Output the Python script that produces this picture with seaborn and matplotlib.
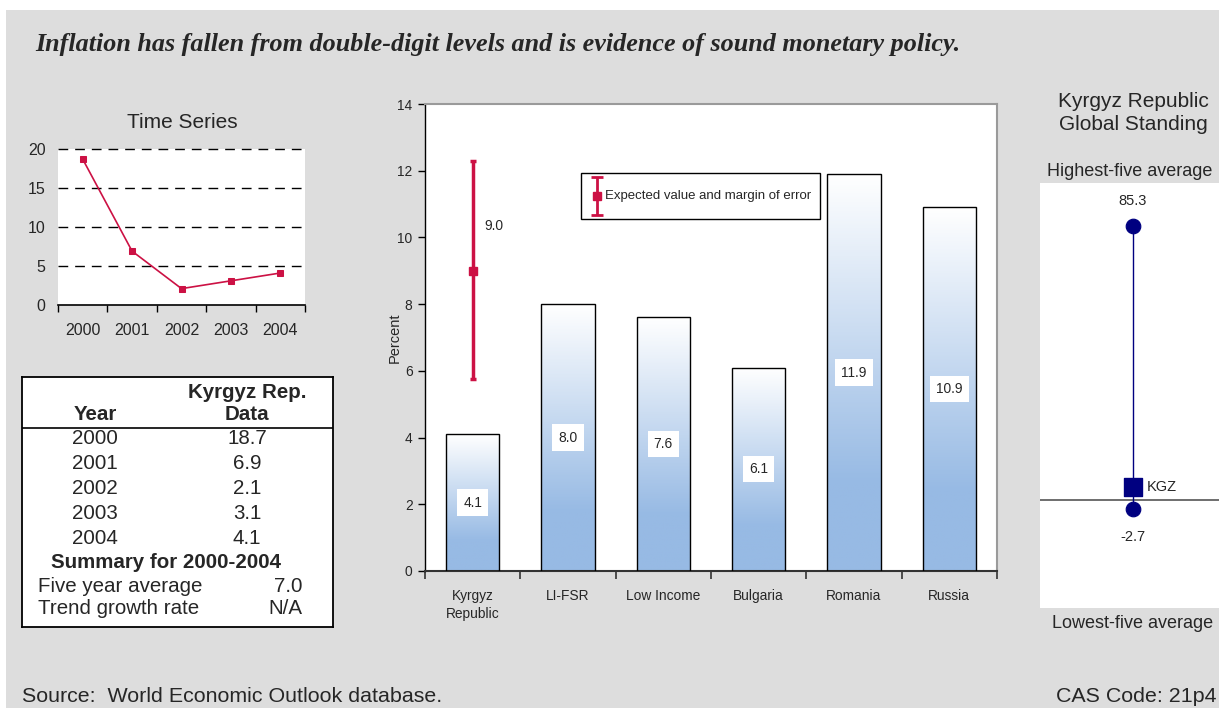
import matplotlib
matplotlib.use("Agg")
import matplotlib.pyplot as plt
from matplotlib import font_manager
from matplotlib.patches import Rectangle
from matplotlib.colors import LinearSegmentedColormap
import numpy as np
import seaborn as sns

# ---- data ----
years = ['2000', '2001', '2002', '2003', '2004']
inflation = [18.7, 6.9, 2.1, 3.1, 4.1]

countries = ['Kyrgyz\nRepublic', 'LI-FSR', 'Low Income', 'Bulgaria', 'Romania', 'Russia']
avg_inflation = [4.1, 8.0, 7.6, 6.1, 11.9, 10.9]

expected_value = 9.0
margin_low = 5.75
margin_high = 12.3

standing_labels = ['Highest-five average', 'Lowest-five average']
standing_values = [85.3, -2.7]
kgz_value = 4.1

five_year_avg = '7.0'
trend_growth = 'N/A'

title = 'Inflation has fallen from double-digit levels and is evidence of sound monetary policy.'
legend_label = 'Expected value and margin of error'
source = 'Source:  World Economic Outlook database.'
cas_code = 'CAS Code: 21p4'

# ---- style ----
sns.set_style('white')
plt.rcParams['font.family'] = ['Liberation Sans', 'DejaVu Sans']

try:
    font_manager.findfont('Liberation Sans Narrow', fallback_to_default=False)
    NARROW, NS = 'Liberation Sans Narrow', 1.0
except ValueError:
    NARROW, NS = 'Liberation Sans', 0.9

crimson = '#CC1144'
navy = '#000080'
gray_bg = '#DDDDDD'
W, H = 1219, 708


def fx(px):
    return px / W


def fy(py):
    return 1 - py / H


def box(l, t, r, b):
    return [fx(l), fy(b), (r - l) / W, (b - t) / H]


fig = plt.figure(figsize=(W / 100, H / 100), dpi=100, facecolor='white')
fig.patches.append(Rectangle((fx(6), 0), 1 - fx(6), fy(10), transform=fig.transFigure,
                             facecolor=gray_bg, edgecolor='none', zorder=-5))

fig.text(fx(35), fy(45), title, family=['Liberation Serif', 'DejaVu Serif'],
         weight='bold', style='italic', size=18.8, va='center', ha='left')

# ---- time series ----
ts = fig.add_axes(box(58, 149, 305, 305))
ts.set_facecolor('white')
xs = np.arange(len(years))
sns.lineplot(x=xs, y=inflation, ax=ts, color=crimson, lw=1.2, marker='s', ms=4.5,
             markeredgecolor=crimson)
ts.set_xlim(-0.5, len(years) - 0.5)
ts.set_ylim(0, 20)
ts.set_yticks([0, 5, 10, 15, 20])
ts.set_xticks(xs)
ts.set_xticklabels(years)
ts.set_xticks(np.arange(-0.5, len(years)), minor=True)
ts.tick_params(axis='x', which='major', length=0, pad=13, labelsize=11.5)
ts.tick_params(axis='x', which='minor', length=5, width=1, color='black', direction='out', bottom=True)
ts.tick_params(axis='y', length=0, pad=9, labelsize=11.5)
for s in ['top', 'right', 'left']:
    ts.spines[s].set_visible(False)
ts.spines['bottom'].set_color('black')
ts.spines['bottom'].set_linewidth(1.2)
for v in [5, 10, 15, 20]:
    ts.axhline(v, color='black', lw=1, ls=(0, (7, 5)), clip_on=False, zorder=0.5)
fig.text(fx(182), fy(123), 'Time Series', ha='center', va='center', size=15)

# ---- table ----
tb = fig.add_axes(box(22, 377, 333, 627))
tb.set_xlim(22, 333)
tb.set_ylim(627, 377)
tb.set_facecolor('white')
tb.set_xticks([])
tb.set_yticks([])
for s in tb.spines.values():
    s.set_color('black')
    s.set_linewidth(1.3)
tsize = 14.8
tb.text(247, 393, 'Kyrgyz Rep.', ha='center', va='center', weight='bold', size=tsize)
tb.text(95, 414, 'Year', ha='center', va='center', weight='bold', size=tsize)
tb.text(247, 414, 'Data', ha='center', va='center', weight='bold', size=tsize)
tb.plot([22, 333], [428, 428], color='black', lw=1.2)
for i, (yr, val) in enumerate(zip(years, inflation)):
    yy = 439 + i * 24.8
    tb.text(95, yy, yr, ha='center', va='center', size=tsize)
    tb.text(247, yy, f'{val:.1f}', ha='center', va='center', size=tsize)
tb.text(166, 563, f'Summary for {years[0]}-{years[-1]}', ha='center', va='center',
        weight='bold', size=tsize)
tb.text(38, 587, 'Five year average', ha='left', va='center', size=tsize)
tb.text(302, 587, five_year_avg, ha='right', va='center', size=tsize)
tb.text(38, 608, 'Trend growth rate', ha='left', va='center', size=tsize)
tb.text(302, 608, trend_growth, ha='right', va='center', size=tsize)

# ---- bar chart ----
ax = fig.add_axes(box(425, 104, 997, 571))
ax.set_facecolor('white')
sns.barplot(x=countries, y=avg_inflation, ax=ax, width=0.56, color='white',
            edgecolor='black', linewidth=1, zorder=3)

blue_cmap = LinearSegmentedColormap.from_list('bw', ['#97BAE4', '#FFFFFF'])
grad = np.clip((np.linspace(0, 1, 256) - 0.22) / 0.78, 0, 1).reshape(-1, 1)
for p in ax.patches:
    x0, y0 = p.get_x(), p.get_y()
    w, h = p.get_width(), p.get_height()
    p.set_facecolor('none')
    im = ax.imshow(grad, extent=[x0, x0 + w, y0, y0 + h], origin='lower', aspect='auto',
                   cmap=blue_cmap, vmin=0, vmax=1, zorder=2.5)
    im.set_clip_path(p)

for i, v in enumerate(avg_inflation):
    ax.text(i, v / 2, f'{v:.1f}', ha='center', va='center', family=NARROW, size=11 * NS,
            bbox=dict(facecolor='white', edgecolor='none', pad=4.5), zorder=4)

ax.errorbar(0, expected_value,
            yerr=[[expected_value - margin_low], [margin_high - expected_value]],
            fmt='s', color=crimson, ms=5.5, elinewidth=2.5, capsize=2, capthick=2.5, zorder=5)
ax.text(0.12, 10.35, f'{expected_value:.1f}', ha='left', va='center', family=NARROW, size=11 * NS)

# legend box drawn by hand (axes coordinates)
ax.add_patch(Rectangle((0.2727, 0.7537), 0.4179, 0.0985, transform=ax.transAxes,
                       facecolor='white', edgecolor='black', lw=1, zorder=6))
ax.errorbar(0.3007, 0.803, yerr=0.0407, fmt='s', color=crimson, ms=6, elinewidth=2,
            capsize=4, capthick=2, transform=ax.transAxes, zorder=7, clip_on=False)
ax.text(0.3147, 0.803, legend_label, transform=ax.transAxes, ha='left', va='center',
        family=NARROW, size=10.6 * NS, zorder=7)

ax.set_xlim(-0.5, len(countries) - 0.5)
ax.set_ylim(0, 14)
ax.set_yticks(np.arange(0, 15, 2))
ax.set_xticks(np.arange(-0.5, len(countries)), minor=True)
ax.tick_params(axis='x', which='major', length=0, pad=13)
ax.tick_params(axis='x', which='minor', length=6, width=1.2, color='#333333', direction='out', bottom=True)
ax.tick_params(axis='y', length=5, width=1, color='black', direction='out', left=True, pad=4)
for lab in ax.get_xticklabels() + ax.get_yticklabels():
    lab.set_family(NARROW)
    lab.set_fontsize(11 * NS)
    lab.set_linespacing(1.35)
ax.set_xlabel('')
ax.set_ylabel('Percent', family='Liberation Sans', size=10.5, labelpad=-3)
ax.spines['left'].set_color('black')
ax.spines['left'].set_linewidth(1)
ax.spines['bottom'].set_color('#333333')
ax.spines['bottom'].set_linewidth(1.5)
for s in ['top', 'right']:
    ax.spines[s].set_color('#9A9A9A')
    ax.spines[s].set_linewidth(1.5)

# ---- global standing ----
gs = fig.add_axes(box(1040, 183, 1219, 608))
gs.set_facecolor('white')
gs.set_xlim(-93, 86)
gs.set_ylim(-33.6, 98.8)
gs.axhline(0, color='#555555', lw=1.2, zorder=1)
gs.plot([0, 0], [standing_values[1], standing_values[0]], color=navy, lw=1, zorder=2)
sns.scatterplot(x=[0, 0], y=standing_values, ax=gs, marker='o', s=110, color=navy,
                edgecolor=navy, zorder=3)
sns.scatterplot(x=[0], y=[kgz_value], ax=gs, marker='s', s=150, color=navy,
                edgecolor=navy, zorder=4)
gs.annotate(f'{standing_values[0]:.1f}', (0, standing_values[0]), xytext=(0, 18),
            textcoords='offset points', ha='center', va='center', size=10.5)
gs.annotate(f'{standing_values[1]:.1f}', (0, standing_values[1]), xytext=(0, -20),
            textcoords='offset points', ha='center', va='center', size=10.5)
gs.annotate('KGZ', (0, kgz_value), xytext=(10, 0), textcoords='offset points',
            ha='left', va='center', size=10.5)
gs.set_xticks([])
gs.set_yticks([])
for s in gs.spines.values():
    s.set_visible(False)

fig.text(fx(1133), fy(113), 'Kyrgyz Republic\nGlobal Standing', ha='center', va='center',
         size=15, linespacing=1.3)
fig.text(fx(1130), fy(172), standing_labels[0], ha='center', va='center', size=13)
fig.text(fx(1133), fy(623), standing_labels[1], ha='center', va='center', size=13)

# ---- footer ----
fig.text(fx(22), fy(697), source, ha='left', va='center', family=NARROW, size=15.4)
fig.text(fx(1216), fy(697), cas_code, ha='right', va='center', family=NARROW, size=15.4)

fig.savefig('out.png', dpi=100, facecolor='white')
